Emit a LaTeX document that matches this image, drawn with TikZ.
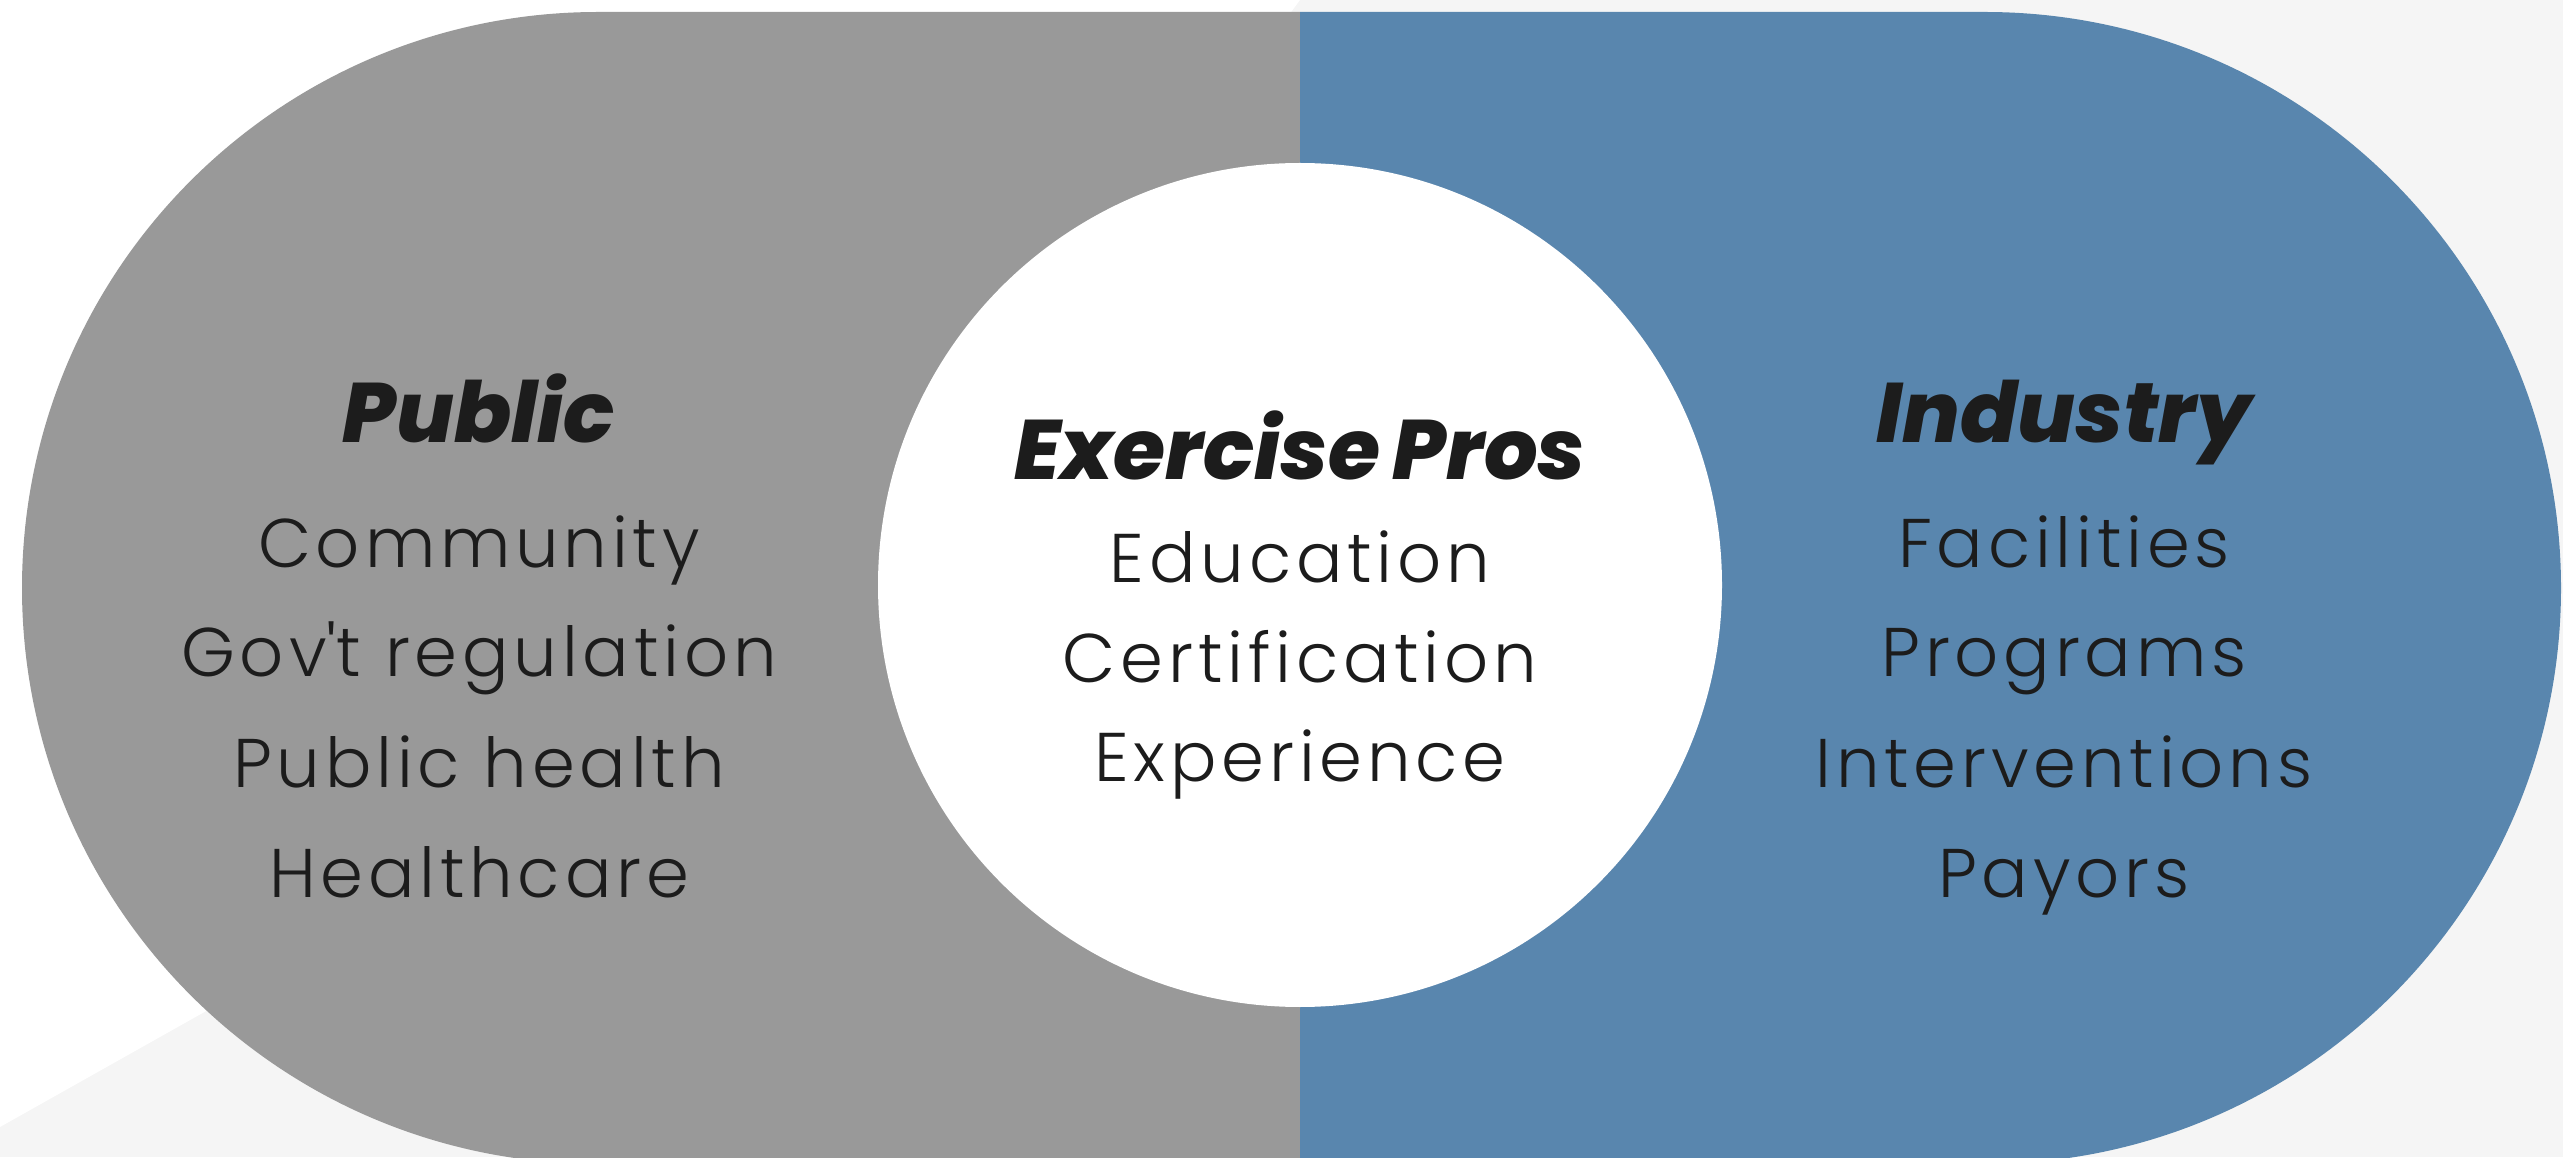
\documentclass[tikz,border=0pt]{standalone}
\usepackage{fontspec}
\setmainfont{Poppins Light}[LetterSpace=7]
\newfontfamily\headfont{Poppins ExtraBold Italic}[WordSpace=0.75]
\definecolor{pubgray}{RGB}{153,153,153}
\definecolor{indblue}{RGB}{89,134,174}
\definecolor{bgshade}{RGB}{245,245,245}
\definecolor{txt}{RGB}{28,28,28}
\tikzset{
	grouphead/.style={font=\headfont\fontsize{24}{28}\selectfont, text=txt, anchor=base, inner sep=0pt},
	groupitem/.style={font=\fontsize{19.6}{24}\selectfont, text=txt, anchor=base, inner sep=0pt}
}

\begin{document}
\begin{tikzpicture}
	\useasboundingbox (0,0) rectangle (25.63,11.57);
	\fill[bgshade] (0,0) rectangle (25.63,11.57);
	\fill[white] (0,0.30) -- (8,4.8) -- (13.0,11.57) -- (0,11.57) -- cycle;
	\begin{scope}
		\clip (5.98,11.45) -- (19.85,11.45) arc[start angle=90, end angle=-90, radius=5.76]
			-- (5.98,-0.07) arc[start angle=270, end angle=90, radius=5.76] -- cycle;
		\fill[pubgray] (0,-1) rectangle (13.0,12);
		\fill[indblue] (13.0,-1) rectangle (26,12);
	\end{scope}
	\node[circle, fill=white, inner sep=0pt, minimum size=8.44cm] (pros) at (13.0,5.72) {};

	\node[grouphead] (public) at (4.79,7.14) {Public};
	\node[groupitem] (community) at (4.79,5.89) {Community};
	\node[groupitem] (govt) at (4.79,4.80) {Gov\textquotesingle t regulation};
	\node[groupitem] (publichealth) at (4.79,3.69) {Public health};
	\node[groupitem] (healthcare) at (4.79,2.60) {Healthcare};

	\node[grouphead] (exercisepros) at (13.0,6.77) {Exercise Pros};
	\node[groupitem] (education) at (13.0,5.74) {Education};
	\node[groupitem] (certification) at (13.0,4.74) {Certification};
	\node[groupitem] (experience) at (13.0,3.75) {Experience};

	\node[grouphead] (industry) at (20.64,7.14) {Industry};
	\node[groupitem] (facilities) at (20.64,5.89) {Facilities};
	\node[groupitem] (programs) at (20.64,4.80) {Programs};
	\node[groupitem] (interventions) at (20.64,3.69) {Interventions};
	\node[groupitem] (payors) at (20.64,2.60) {Payors};
\end{tikzpicture}
\end{document}
